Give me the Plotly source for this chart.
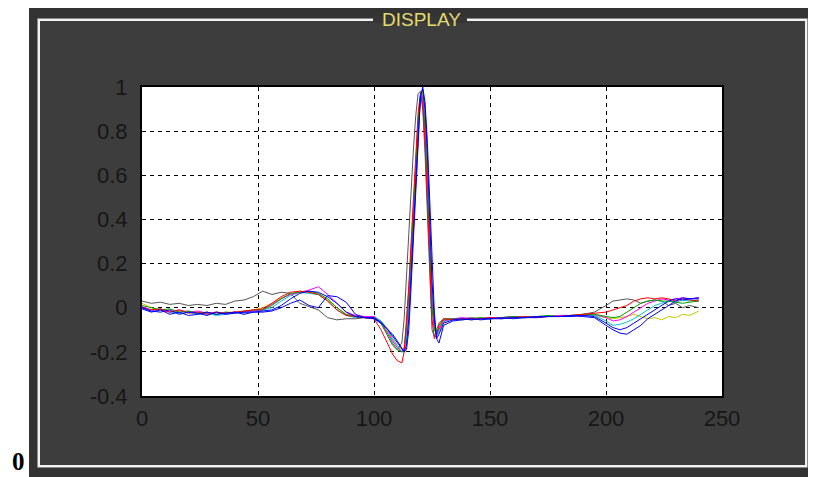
import plotly.graph_objects as go

# ---------------- data ----------------
x = [0, 4, 8, 12, 16, 20, 24, 28, 32, 36, 40, 44, 48,
     52, 56, 60, 64, 68, 72, 76, 80, 84, 88, 92, 96,
     100, 103, 106, 108, 110, 112, 113, 114, 115, 116, 117, 118, 119, 120,
     121, 122, 123, 124, 125, 126, 127, 128, 130,
     134, 138, 142, 146, 150, 155, 160, 165, 170, 175, 180, 185, 190, 195,
     200, 203, 206, 209, 212, 215, 218, 221, 224, 227, 230, 233, 236, 240]

gray = [0.03, 0.02, 0.025, 0.015, 0.02, 0.01, 0.015, 0.01, 0.02, 0.015, 0.03, 0.035, 0.05,
        0.075, 0.06, 0.07, 0.065, 0.02, 0.005, -0.01, -0.045, -0.055, -0.05, -0.05, -0.045,
        -0.05, -0.07, -0.13, -0.17, -0.19, -0.16, -0.05, 0.15, 0.35, 0.55, 0.72, 0.87, 0.97, 0.98,
        0.9, 0.7, 0.45, 0.15, -0.1, -0.13, -0.1, -0.07, -0.05,
        -0.05, -0.05, -0.045, -0.05, -0.045, -0.045, -0.04, -0.045, -0.04, -0.04, -0.035, -0.035, -0.03, -0.02,
        0.01, 0.03, 0.035, 0.04, 0.035, 0.02, 0.03, 0.035, 0.03, 0.01, 0.02, 0.0, 0.01, 0.0]

yellow = [0.02, 0.0, -0.01, -0.015, -0.02, -0.015, -0.025, -0.02, -0.03, -0.02, -0.02, -0.02, -0.01,
          0.0, 0.02, 0.045, 0.06, 0.075, 0.07, 0.06, 0.035, 0.0, -0.03, -0.04, -0.045,
          -0.04, -0.06, -0.1, -0.14, -0.17, -0.19, -0.2, -0.12, 0.02, 0.2, 0.4, 0.6, 0.82, 0.95,
          0.98, 0.88, 0.65, 0.38, 0.08, -0.07, -0.12, -0.1, -0.06,
          -0.05, -0.05, -0.05, -0.045, -0.05, -0.045, -0.045, -0.04, -0.04, -0.04, -0.035, -0.04, -0.035, -0.035,
          -0.045, -0.05, -0.045, -0.04, -0.03, -0.04, -0.05, -0.045, -0.055, -0.04, -0.045, -0.03, -0.035, -0.015]

cyan = [0.0, -0.015, -0.005, -0.02, -0.025, -0.02, -0.03, -0.025, -0.035, -0.03, -0.02, -0.025, -0.015,
        -0.01, 0.0, 0.03, 0.055, 0.07, 0.065, 0.06, 0.03, -0.01, -0.035, -0.045, -0.04,
        -0.04, -0.06, -0.1, -0.14, -0.17, -0.2, -0.2, -0.15, 0.0, 0.18, 0.38, 0.58, 0.8, 0.94,
        0.97, 0.85, 0.62, 0.35, 0.06, -0.08, -0.13, -0.11, -0.065,
        -0.05, -0.05, -0.055, -0.05, -0.05, -0.045, -0.045, -0.04, -0.04, -0.04, -0.04, -0.035, -0.035, -0.035,
        -0.06, -0.08, -0.075, -0.065, -0.05, -0.03, -0.01, 0.01, 0.02, 0.03, 0.025, 0.035, 0.03, 0.035]

magenta = [0.005, -0.01, -0.01, -0.02, -0.01, -0.02, -0.015, -0.025, -0.02, -0.025, -0.02, -0.02, -0.015,
           -0.01, 0.015, 0.04, 0.06, 0.07, 0.08, 0.095, 0.06, 0.02, -0.02, -0.035, -0.04,
           -0.04, -0.07, -0.11, -0.15, -0.18, -0.2, -0.19, -0.1, 0.05, 0.22, 0.42, 0.62, 0.82, 0.95,
           0.96, 0.82, 0.58, 0.3, 0.03, -0.09, -0.12, -0.1, -0.06,
           -0.05, -0.045, -0.05, -0.05, -0.045, -0.045, -0.04, -0.045, -0.04, -0.04, -0.035, -0.035, -0.035, -0.03,
           -0.045, -0.06, -0.055, -0.04, -0.02, 0.0, 0.02, 0.03, 0.04, 0.035, 0.04, 0.045, 0.04, 0.045]

green = [0.01, 0.0, -0.01, -0.005, -0.02, -0.015, -0.025, -0.02, -0.03, -0.02, -0.025, -0.015, -0.01,
         -0.01, 0.01, 0.04, 0.065, 0.07, 0.075, 0.065, 0.04, 0.0, -0.03, -0.04, -0.045,
         -0.045, -0.07, -0.12, -0.16, -0.19, -0.2, -0.18, -0.08, 0.08, 0.25, 0.45, 0.65, 0.85, 0.96,
         0.95, 0.8, 0.55, 0.25, 0.0, -0.1, -0.12, -0.09, -0.055,
         -0.05, -0.055, -0.05, -0.045, -0.05, -0.045, -0.04, -0.045, -0.04, -0.035, -0.04, -0.035, -0.03, -0.03,
         -0.04, -0.045, -0.04, -0.02, 0.0, 0.02, 0.03, 0.035, 0.03, 0.03, 0.025, 0.02, 0.025, 0.03]

red = [0.0, -0.01, -0.005, -0.02, -0.01, -0.025, -0.02, -0.03, -0.02, -0.025, -0.02, -0.015, -0.01,
       -0.005, 0.02, 0.05, 0.07, 0.075, 0.07, 0.06, 0.03, -0.01, -0.035, -0.04, -0.045,
       -0.05, -0.1, -0.17, -0.21, -0.24, -0.25, -0.2, -0.05, 0.1, 0.3, 0.5, 0.7, 0.88, 0.97,
       0.92, 0.75, 0.5, 0.2, -0.05, -0.14, -0.12, -0.08, -0.05,
       -0.055, -0.05, -0.05, -0.05, -0.045, -0.05, -0.045, -0.04, -0.045, -0.04, -0.04, -0.035, -0.03, -0.025,
       -0.02, -0.01, 0.0, 0.01, 0.03, 0.04, 0.045, 0.04, 0.045, 0.04, 0.03, 0.04, 0.035, 0.03]

blue1 = [0.0, -0.015, -0.02, -0.01, -0.03, -0.02, -0.025, -0.035, -0.02, -0.03, -0.025, -0.02, -0.02,
         -0.015, -0.01, 0.01, 0.04, 0.065, 0.075, 0.07, 0.05, 0.02, -0.02, -0.04, -0.045,
         -0.045, -0.065, -0.1, -0.13, -0.16, -0.19, -0.2, -0.17, -0.05, 0.15, 0.35, 0.55, 0.78, 0.96,
         0.99, 0.9, 0.7, 0.42, 0.12, -0.05, -0.14, -0.12, -0.07,
         -0.055, -0.05, -0.055, -0.05, -0.05, -0.05, -0.045, -0.045, -0.04, -0.04, -0.04, -0.04, -0.035, -0.04,
         -0.07, -0.09, -0.1, -0.09, -0.07, -0.05, -0.03, -0.01, 0.01, 0.03, 0.04, 0.035, 0.04, 0.04]

blue2 = [-0.005, -0.02, -0.01, -0.03, -0.02, -0.035, -0.03, -0.02, -0.03, -0.025, -0.02, -0.03, -0.02,
         -0.02, -0.015, 0.0, 0.02, 0.035, 0.01, 0.0, 0.055, 0.05, 0.025, -0.03, -0.045,
         -0.05, -0.07, -0.1, -0.12, -0.15, -0.18, -0.2, -0.19, -0.1, 0.1, 0.3, 0.52, 0.75, 0.95,
         1.0, 0.93, 0.75, 0.48, 0.18, -0.02, -0.14, -0.16, -0.08,
         -0.06, -0.055, -0.05, -0.055, -0.05, -0.045, -0.05, -0.045, -0.045, -0.04, -0.04, -0.035, -0.04, -0.045,
         -0.08, -0.1, -0.115, -0.12, -0.1, -0.08, -0.05, -0.03, -0.01, 0.01, 0.03, 0.045, 0.04, 0.045]

series = [
    ("gray", gray, "#555555"),
    ("yellow", yellow, "#c8c800"),
    ("cyan", cyan, "#00c8c8"),
    ("magenta", magenta, "#ff00ff"),
    ("green", green, "#00a000"),
    ("red", red, "#ff0000"),
    ("blue1", blue1, "#0000ff"),
    ("blue2", blue2, "#0000ff"),
]

x_ticks = [0, 50, 100, 150, 200, 250]
x_ticktext = ["0", "50", "100", "150", "200", "250"]
y_ticks = [-0.4, -0.2, 0, 0.2, 0.4, 0.6, 0.8, 1]
y_ticktext = ["-0.4", "-0.2", "0", "0.2", "0.4", "0.6", "0.8", "1"]

# ---------------- figure ----------------
# the page body adds an 8 px offset, so the figure is laid out in
# window pixels minus that offset
OFF = 8
W, H = 816 - OFF, 477 - OFF
L, R, T, B = 142 - OFF, 722 - OFF, 87 - OFF, 396 - OFF


def px(X):
    return (X - OFF - L) / (R - L)


def py(Y):
    return (B - (Y - OFF)) / (B - T)


fig = go.Figure()
for name, vals, col in series:
    fig.add_trace(go.Scatter(x=x, y=vals, mode="lines", name=name,
                             line=dict(color=col, width=1)))

shapes = [
    # dark panel
    dict(type="rect", xref="paper", yref="paper", x0=px(29), x1=px(830), y0=py(490), y1=py(7),
         fillcolor="#333333", line=dict(width=0), layer="below"),
    dict(type="rect", xref="paper", yref="paper", x0=px(39), x1=px(806), y0=py(466), y1=py(20),
         fillcolor="#3d3d3d", line=dict(width=0), layer="below"),
    # plot area background
    dict(type="rect", xref="paper", yref="paper", x0=0, x1=1, y0=0, y1=1,
         fillcolor="white", line=dict(width=0), layer="below"),
    # frame lines
    dict(type="rect", xref="paper", yref="paper", x0=px(37.5), x1=px(807.5), y0=py(467.5), y1=py(18.5),
         fillcolor="rgba(0,0,0,0)", line=dict(color="#8a8a8a", width=1), layer="below"),
    dict(type="rect", xref="paper", yref="paper", x0=px(39), x1=px(806), y0=py(466), y1=py(20),
         fillcolor="rgba(0,0,0,0)", line=dict(color="#f2f2f2", width=2), layer="below"),
    # gap in the frame behind the title
    dict(type="rect", xref="paper", yref="paper", x0=px(373), x1=px(467), y0=py(23), y1=py(16),
         fillcolor="#363636", line=dict(width=0), layer="below"),
]

annotations = [
    dict(text="DISPLAY", xref="paper", yref="paper", x=px(421), y=py(OFF),
         xanchor="center", yanchor="top", showarrow=False, borderpad=0,
         font=dict(family="Liberation Sans, Arial, sans-serif", size=19, color="#e4da70")),
    dict(text="<b>0</b>", xref="paper", yref="paper", x=px(18), y=py(477),
         xanchor="center", yanchor="bottom", showarrow=False,
         font=dict(family="Liberation Serif, Times New Roman, serif", size=25, color="black")),
]

tickfont = dict(family="Liberation Sans, Arial, sans-serif", size=22, color="#161616")

fig.update_layout(
    width=W, height=H,
    margin=dict(l=L, r=W - R, t=T, b=H - B, pad=0),
    paper_bgcolor="white",
    plot_bgcolor="white",
    showlegend=False,
    shapes=shapes,
    annotations=annotations,
    xaxis=dict(range=[0, 250], tickvals=x_ticks, ticktext=x_ticktext,
               showgrid=True, gridcolor="black", gridwidth=1, griddash="4px,4px",
               zeroline=False, showline=True, linecolor="black", linewidth=2, mirror=True,
               ticks="", tickfont=tickfont, ticklabelstandoff=2),
    yaxis=dict(range=[-0.4, 1], tickvals=y_ticks, ticktext=y_ticktext,
               showgrid=True, gridcolor="black", gridwidth=1, griddash="4px,4px",
               zeroline=False, showline=True, linecolor="black", linewidth=2, mirror=True,
               ticks="", tickfont=tickfont, ticklabelstandoff=8),
)

fig.write_html("out.html")
